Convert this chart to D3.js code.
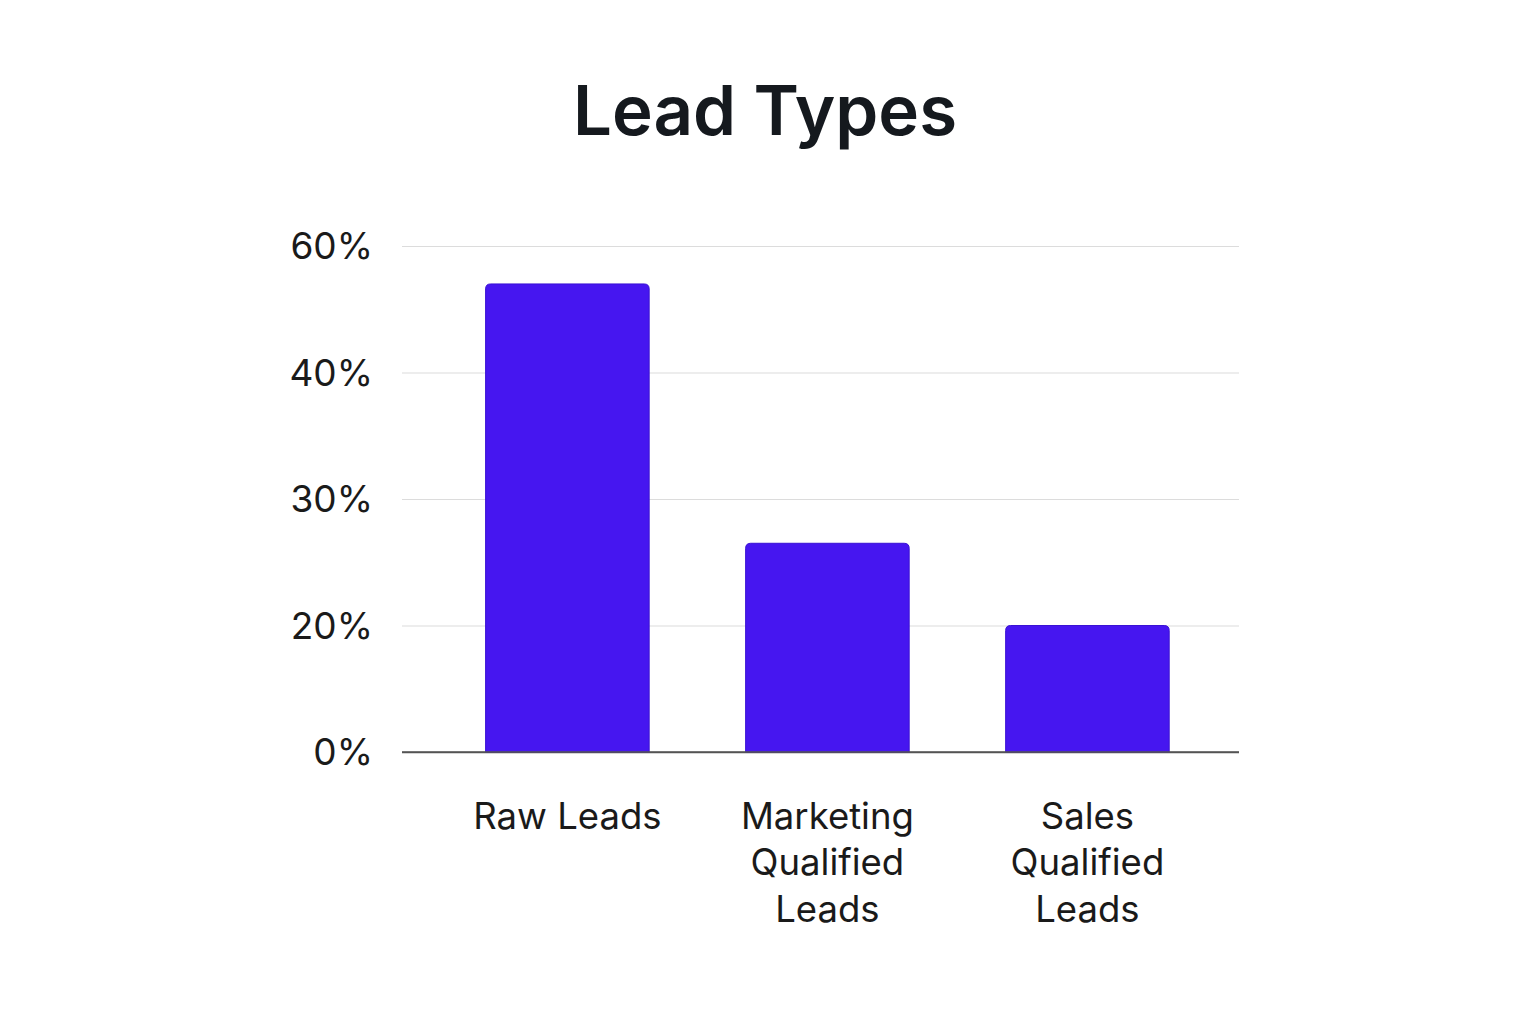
<!DOCTYPE html>
<html>
<head>
<meta charset="utf-8">
<script src="https://cdn.jsdelivr.net/npm/d3@7"></script>
<style>
  html, body { margin: 0; padding: 0; background: #fff; }
  svg { display: block; font-family: Inter, "Noto Sans", sans-serif; }
</style>
</head>
<body>
<div id="chart"></div>
<script>
const categories = [["Raw Leads"], ["Marketing", "Qualified", "Leads"], ["Sales", "Qualified", "Leads"]];
const values = [54, 26.5, 20];
const tickValues = [0, 20, 30, 40, 60];
const tickLabels = ["0%", "20%", "30%", "40%", "60%"];

const svgWidth = 1536, svgHeight = 1024;
const plotLeft = 402, plotRight = 1239, plotBottom = 752, plotTop = 246;

const svg = d3.select('#chart')
  .append('svg')
  .attr('width', svgWidth)
  .attr('height', svgHeight);

svg.append('text')
  .attr('x', 765)
  .attr('y', 135)
  .attr('text-anchor', 'middle')
  .attr('font-size', 69)
  .attr('font-weight', 600)
  .attr('fill', '#15191e')
  .text('Lead Types');

// the axis ticks are evenly spaced though their values are not
const yScale = d3.scaleLinear()
  .domain(tickValues)
  .range(tickValues.map((d, i) => plotBottom - (plotBottom - plotTop) * i / (tickValues.length - 1)));

const xScale = d3.scaleBand()
  .domain(categories.map((d, i) => i))
  .range([plotLeft, plotRight])
  .paddingInner(0.371)
  .paddingOuter(0.295)
  .align(0.545);

const grid = svg.append('g')
  .call(d3.axisLeft(yScale).tickValues(tickValues).tickSize(-(plotRight - plotLeft)).tickFormat(''))
  .attr('transform', `translate(${plotLeft}, 0)`);
grid.select('.domain').remove();
grid.selectAll('.tick line')
  .attr('stroke', (d) => d === 0 ? '#555' : '#dcdcdc')
  .attr('stroke-width', (d) => d === 0 ? 1.3 : 1.2);

svg.append('g')
  .selectAll('text')
  .data(tickValues)
  .enter()
  .append('text')
  .attr('x', 373)
  .attr('y', (d) => yScale(d))
  .attr('dy', '0.36em')
  .attr('text-anchor', 'end')
  .attr('font-size', 37)
  .attr('fill', '#1a1a1a')
  .text((d, i) => tickLabels[i]);

const r = 5;
svg.append('g')
  .selectAll('path')
  .data(values)
  .enter()
  .append('path')
  .attr('d', (d, i) => {
    const x0 = xScale(i), x1 = x0 + xScale.bandwidth();
    const y0 = yScale(d), y1 = yScale(0);
    return `M${x0},${y1}V${y0 + r}Q${x0},${y0} ${x0 + r},${y0}H${x1 - r}Q${x1},${y0} ${x1},${y0 + r}V${y1}Z`;
  })
  .attr('fill', '#4616f0')
  .attr('stroke', '#3a12d4')
  .attr('stroke-width', 1);

// redraw the base line over the bars
svg.append('line')
  .attr('x1', plotLeft).attr('x2', plotRight)
  .attr('y1', yScale(0)).attr('y2', yScale(0))
  .attr('stroke', '#555').attr('stroke-width', 1.3);

const labels = svg.append('g')
  .selectAll('text')
  .data(categories)
  .enter()
  .append('text')
  .attr('x', (d, i) => xScale(i) + xScale.bandwidth() / 2)
  .attr('y', 829)
  .attr('text-anchor', 'middle')
  .attr('font-size', 36.5)
  .attr('fill', '#1a1a1a');

labels.selectAll('tspan')
  .data((d) => d)
  .enter()
  .append('tspan')
  .attr('x', function() { return d3.select(this.parentNode).attr('x'); })
  .attr('dy', (d, i) => i === 0 ? 0 : 46.3)
  .text((d) => d);
</script>
</body>
</html>
